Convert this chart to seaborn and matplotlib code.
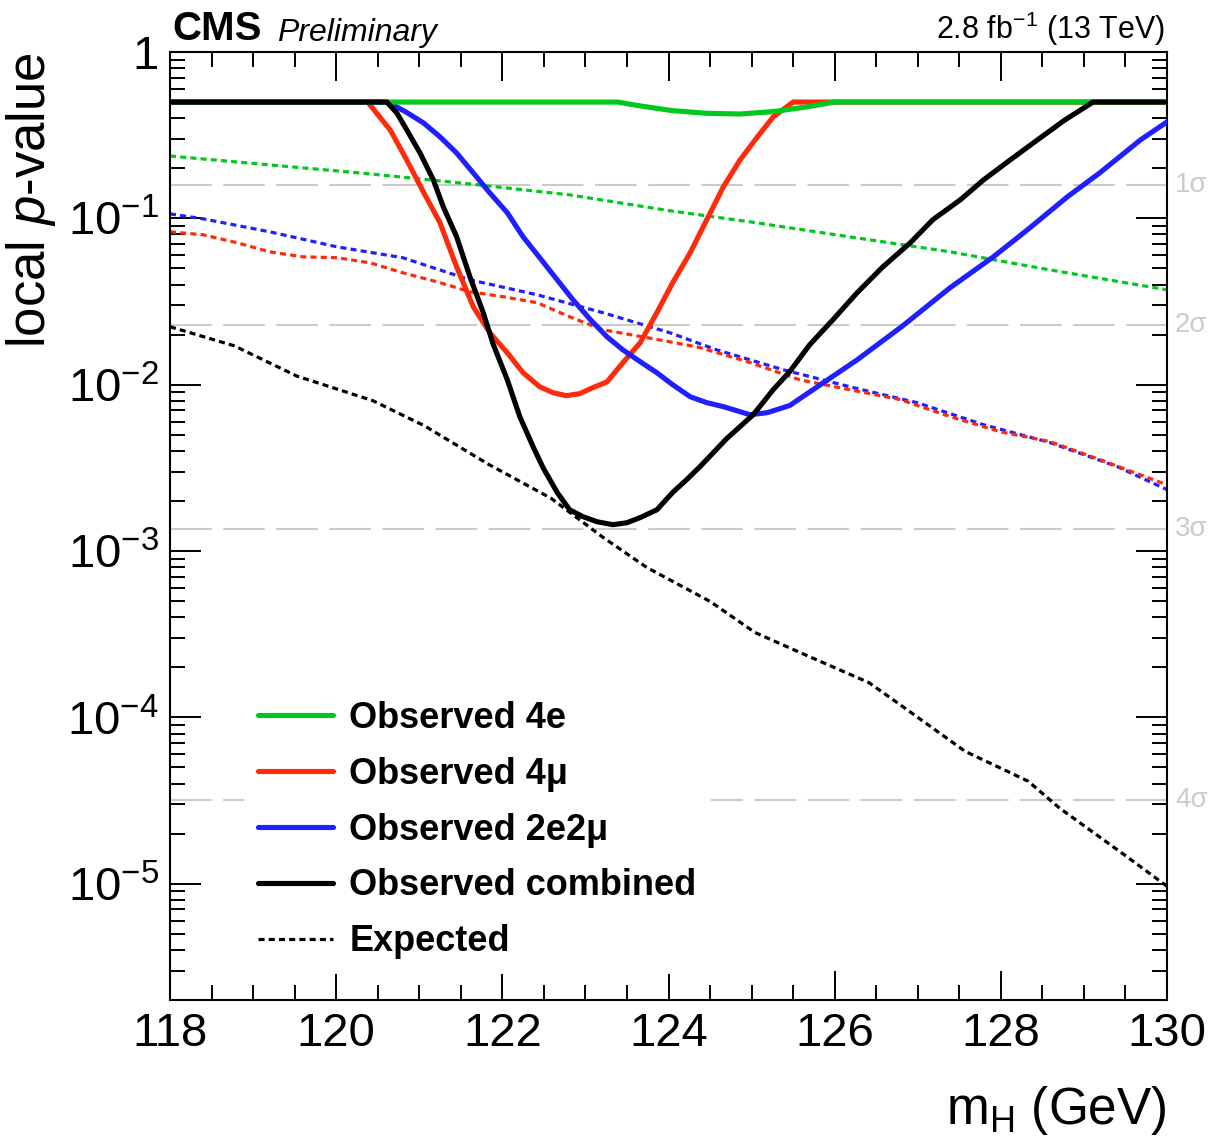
import numpy as np
import pandas as pd
import matplotlib
matplotlib.use("Agg")
import matplotlib.pyplot as plt
import matplotlib.transforms as mtransforms
from matplotlib.lines import Line2D
from matplotlib.ticker import FixedLocator, FixedFormatter, LogLocator, MultipleLocator, NullFormatter
import seaborn as sns

# ---------------- data ----------------
mh_obs_4e = [118.0, 123.39, 123.66, 124.05, 124.46, 124.86, 125.26, 125.67, 126.0, 130.0]
p_obs_4e = [0.5, 0.5, 0.474, 0.444, 0.428, 0.424, 0.438, 0.468, 0.5, 0.5]

mh_obs_4mu = [118.0, 120.38, 120.65, 120.85, 121.05, 121.25, 121.45, 121.65, 121.85, 122.06,
              122.25, 122.45, 122.61, 122.77, 122.93, 123.09, 123.26, 123.45, 123.66, 123.86,
              124.05, 124.26, 124.46, 124.66, 124.86, 125.07, 125.26, 125.50, 130.0]
p_obs_4mu = [0.5, 0.5, 0.34, 0.224, 0.144, 0.094, 0.0511, 0.0294, 0.0205, 0.01555,
             0.0118, 0.00972, 0.00895, 0.00859, 0.00883, 0.0096, 0.0104, 0.01355, 0.0179, 0.0271,
             0.041, 0.062, 0.098, 0.1546, 0.224, 0.309, 0.407, 0.5, 0.5]

mh_obs_2e2mu = [118.0, 120.62, 120.84, 121.05, 121.25, 121.45, 121.65, 121.85, 122.06, 122.25,
                122.45, 122.66, 122.85, 123.06, 123.26, 123.45, 123.66, 123.86, 124.05, 124.26,
                124.46, 124.66, 124.98, 125.19, 125.46, 125.58, 126.27, 126.82, 127.39, 127.91,
                128.32, 128.80, 129.19, 129.68, 130.0]
p_obs_2e2mu = [0.5, 0.5, 0.436, 0.375, 0.309, 0.247, 0.1876, 0.142, 0.108, 0.0774,
               0.058, 0.0427, 0.0324, 0.0246, 0.0194, 0.0162, 0.01374, 0.0118, 0.0100, 0.00847,
               0.0078, 0.00738, 0.0066, 0.00679, 0.0075, 0.00824, 0.0141, 0.0226, 0.0383, 0.0587,
               0.0853, 0.1346, 0.1876, 0.296, 0.38]

mh_obs_comb = [118.0, 120.61, 120.73, 120.85, 121.01, 121.17, 121.29, 121.45, 121.61, 121.77,
               121.89, 122.06, 122.21, 122.37, 122.49, 122.66, 122.81, 122.97, 123.14, 123.33,
               123.50, 123.66, 123.86, 124.05, 124.22, 124.38, 124.70, 125.02, 125.26, 125.46,
               125.70, 125.98, 126.27, 126.58, 126.91, 127.18, 127.51, 127.79, 128.11, 128.44,
               128.77, 129.11, 130.0]
p_obs_comb = [0.5, 0.5, 0.43, 0.34, 0.247, 0.170, 0.117, 0.0775, 0.0445, 0.0271,
              0.0175, 0.0107, 0.00643, 0.00424, 0.00317, 0.00225, 0.00177, 0.00161, 0.00150, 0.00144,
              0.00148, 0.00159, 0.00177, 0.00225, 0.00269, 0.00322, 0.00474, 0.0066, 0.00933, 0.012,
              0.0174, 0.0246, 0.0357, 0.0511, 0.0713, 0.098, 0.129, 0.170, 0.224, 0.296,
              0.39, 0.5, 0.5]

mh_exp_4e = [118.0, 119.2, 120.41, 121.61, 122.81, 124.02, 124.98, 126.18, 127.39, 128.59, 130.0]
p_exp_4e = [0.237, 0.2096, 0.185, 0.161, 0.1384, 0.111, 0.0953, 0.0774, 0.0629, 0.049, 0.0372]

mh_exp_4mu = [118.0, 118.40, 118.81, 119.20, 119.60, 120.01, 120.41, 120.80, 121.21, 121.61,
              122.01, 122.42, 122.81, 123.21, 124.02, 124.38, 124.98, 125.58, 126.18, 126.79,
              127.39, 127.99, 128.59, 129.19, 130.0]
p_exp_4mu = [0.083, 0.0796, 0.0713, 0.0629, 0.0587, 0.058, 0.054, 0.0471, 0.0416, 0.0362,
             0.0338, 0.0311, 0.0256, 0.0214, 0.0181, 0.0167, 0.0136, 0.0107, 0.00933, 0.00813,
             0.00643, 0.00522, 0.00455, 0.00355, 0.0025]

mh_exp_2e2mu = [118.0, 118.40, 119.20, 120.01, 120.80, 121.61, 122.42, 123.21, 124.02, 124.58,
                125.38, 126.18, 126.99, 127.79, 128.59, 129.40, 130.0]
p_exp_2e2mu = [0.1064, 0.0993, 0.083, 0.0674, 0.058, 0.0427, 0.0347, 0.0271, 0.0205, 0.0162,
               0.0123, 0.00972, 0.0078, 0.00575, 0.00449, 0.00322, 0.00234]

mh_exp_comb = [118.0, 118.77, 119.53, 120.44, 121.06, 121.83, 122.59, 123.20, 123.74, 124.50,
               125.04, 125.66, 126.41, 126.80, 127.57, 128.33, 128.71, 129.48, 130.0]
p_exp_comb = [0.0223, 0.01715, 0.01125, 0.00802, 0.00567, 0.00333, 0.00207, 0.00122, 0.000796,
              0.000498, 0.000324, 0.000236, 0.000162, 0.000118, 6.25e-5, 4.13e-5, 2.84e-5,
              1.50e-5, 9.66e-6]

sigma_labels = ["1σ", "2σ", "3σ", "4σ"]
sigma_pvalues = [0.158655, 0.0227501, 0.0013499, 3.16712e-5]

ytick_values = [1.0, 1e-1, 1e-2, 1e-3, 1e-4, 1e-5]
ytick_labels = ["1", r"$10^{-1}$", r"$10^{-2}$", r"$10^{-3}$", r"$10^{-4}$", r"$10^{-5}$"]

legend_labels = ["Observed 4e", "Observed 4μ", "Observed 2e2μ", "Observed combined", "Expected"]

# ---------------- style ----------------
sns.set_style("ticks")
plt.rcParams["font.family"] = ["Liberation Sans", "DejaVu Sans"]
plt.rcParams["mathtext.fontset"] = "custom"
plt.rcParams["mathtext.rm"] = "Liberation Sans"
plt.rcParams["mathtext.it"] = "Liberation Sans:italic"
plt.rcParams["mathtext.bf"] = "Liberation Sans:bold"
plt.rcParams["axes.unicode_minus"] = True
for k in ["text.color", "axes.labelcolor", "xtick.color", "ytick.color", "axes.edgecolor"]:
    plt.rcParams[k] = "black"

C_GREEN = "#00c81e"
C_RED = "#ff2a0a"
C_BLUE = "#1f1fff"
C_BLACK = "#000000"
C_GRAY = "#cbcbcb"

fig = plt.figure(figsize=(12.10, 11.39), dpi=100)
ax = fig.add_axes([170 / 1210, 1 - 1000 / 1139, 997 / 1210, 948 / 1139])
ax.set_facecolor("white")

# sigma reference lines
for sp in sigma_pvalues:
    ax.axhline(sp, color=C_GRAY, lw=1.5, dashes=(20, 5.5), zorder=1)
trans = mtransforms.blended_transform_factory(ax.transAxes, ax.transData)
for sp, sl in zip(sigma_pvalues, sigma_labels):
    ax.text(1.008, sp, sl, transform=trans, color=C_GRAY, fontsize=20,
            ha="left", va="center", clip_on=False)

exp_ls = (0, (1.9, 1.3))
lw_exp = 2.3
lw_obs = 3.7

def draw(x, y, color, lw, ls, z):
    df = pd.DataFrame({"mH": x, "p": y})
    sns.lineplot(data=df, x="mH", y="p", ax=ax, color=color, linewidth=lw,
                 linestyle=ls, sort=False, estimator=None, zorder=z)

draw(mh_exp_4e, p_exp_4e, C_GREEN, lw_exp, exp_ls, 2)
draw(mh_exp_2e2mu, p_exp_2e2mu, C_BLUE, lw_exp, exp_ls, 2.1)
draw(mh_exp_4mu, p_exp_4mu, C_RED, lw_exp, exp_ls, 2.2)
draw(mh_exp_comb, p_exp_comb, C_BLACK, lw_exp, exp_ls, 2.3)
draw(mh_obs_4mu, p_obs_4mu, C_RED, lw_obs, "-", 3)
draw(mh_obs_2e2mu, p_obs_2e2mu, C_BLUE, lw_obs, "-", 3.1)
draw(mh_obs_4e, p_obs_4e, C_GREEN, lw_obs, "-", 3.2)
draw(mh_obs_comb, p_obs_comb, C_BLACK, lw_obs, "-", 3.3)
for ln in ax.get_lines():
    ln.set_solid_joinstyle("round")

ax.set_yscale("log")
ax.set_xlim(118, 130)
ax.set_ylim(2.0e-6, 1.0)

# ticks
ax.xaxis.set_major_locator(MultipleLocator(2))
ax.xaxis.set_minor_locator(MultipleLocator(0.5))
ax.yaxis.set_major_locator(FixedLocator(ytick_values))
ax.yaxis.set_major_formatter(FixedFormatter(ytick_labels))
ax.yaxis.set_minor_locator(LogLocator(base=10, subs=np.arange(2, 10)))
ax.yaxis.set_minor_formatter(NullFormatter())
ax.tick_params(which="both", direction="in", top=True, right=True, width=1.4, color="black")
ax.tick_params(axis="x", which="major", length=21, labelsize=34, pad=9)
ax.tick_params(axis="x", which="minor", length=11)
ax.tick_params(axis="y", which="major", length=22, labelsize=34, pad=8)
ax.tick_params(axis="y", which="minor", length=11)
for s in ax.spines.values():
    s.set_linewidth(1.5)
    s.set_color("black")

ax.set_xlabel(r"m$_{\mathrm{H}}$ (GeV)", fontsize=37, loc="right")
ax.xaxis.set_label_coords(1.0, -0.089)
ax.set_ylabel(r"local $p$-value", fontsize=38, loc="top")
ax.yaxis.set_label_coords(-0.112, 1.0)

# header texts
ax.text(0.002, 1.004, "CMS", transform=ax.transAxes, fontsize=29, fontweight="bold",
        ha="left", va="bottom")
ax.text(0.107, 1.004, "Preliminary", transform=ax.transAxes, fontsize=23, style="italic",
        ha="left", va="bottom")
ax.text(0.998, 1.004, r"2.8 fb$^{-1}$ (13 TeV)", transform=ax.transAxes, fontsize=22,
        ha="right", va="bottom")

# legend
handles = [
    Line2D([], [], color=C_GREEN, lw=lw_obs),
    Line2D([], [], color=C_RED, lw=lw_obs),
    Line2D([], [], color=C_BLUE, lw=lw_obs),
    Line2D([], [], color=C_BLACK, lw=lw_obs),
    Line2D([], [], color=C_BLACK, lw=lw_exp, linestyle=exp_ls),
]
leg = ax.legend(handles, legend_labels, loc="upper left", bbox_to_anchor=(0.074, 0.331),
                borderaxespad=0, borderpad=0.4, frameon=True, facecolor="white",
                edgecolor="none", framealpha=1.0, fancybox=False,
                prop={"size": 26, "weight": "bold"}, handlelength=2.08,
                handletextpad=0.44, labelspacing=0.58)
leg.set_zorder(5)

fig.savefig("out.png", dpi=100, facecolor="white")
